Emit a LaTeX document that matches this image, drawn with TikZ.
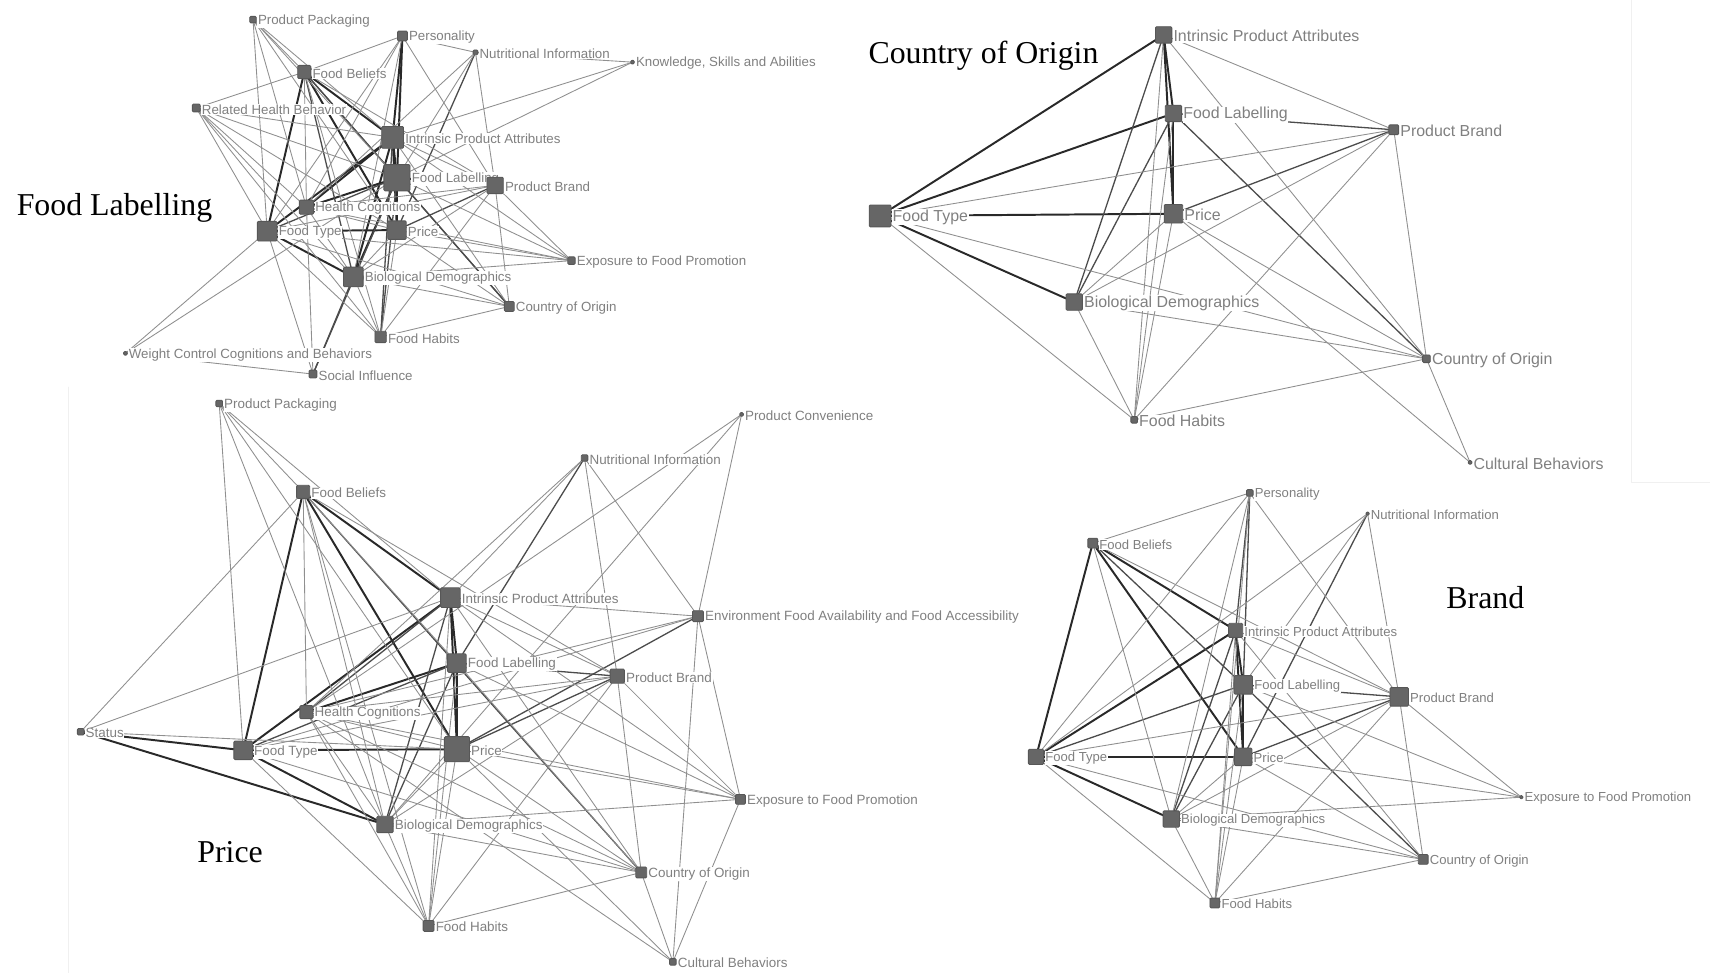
\documentclass[tikz,border=0pt]{standalone}
\usepackage{fontspec}
\setmainfont{Liberation Serif}
\setsansfont{Liberation Sans}
\usepackage{tikz}
\usetikzlibrary{backgrounds}
\definecolor{nodegray}{rgb}{0.40,0.40,0.40}
\definecolor{labelgray}{rgb}{0.50,0.50,0.50}
\definecolor{edgegray}{rgb}{0.56,0.56,0.56}
\definecolor{edgedark}{rgb}{0.30,0.30,0.30}
\definecolor{edgeblack}{rgb}{0.16,0.16,0.16}
\definecolor{panelgray}{rgb}{0.94,0.94,0.94}
\newcommand{\gnode}[4]{\node[sq, minimum size=#3] (#1) at (#2) {};
  \node[lbl] (#1t) at (#1.east) {#4};}

\begin{document}
\begin{tikzpicture}[line cap=round,line join=round, x=0.5pt,y=-0.5pt,
  sq/.style={draw=nodegray!85!black, fill=nodegray, rounded corners=0.5pt, inner sep=0pt, outer sep=0pt},
  lbl/.style={anchor=west, text=labelgray, fill=white, inner sep=0.3pt, xshift=0.3pt, yshift=-0.6pt, font=\sffamily\fontsize{6.1}{7}\selectfont},
  ttl/.style={inner sep=0pt, font=\fontsize{14.6}{16}\selectfont},
  thn/.style={draw=edgegray, line width=0.4pt},
  drk/.style={draw=edgedark, line width=0.6pt},
  thk/.style={draw=edgeblack, line width=0.9pt}]
\useasboundingbox (0,0) rectangle (1568,892);
\draw[panelgray] (63,355) -- (63,892);
\draw[panelgray] (1496,0) -- (1496,442) -- (1568,442);

% Food Labelling
\gnode{aPP}{232,18}{3pt}{Product Packaging}
\gnode{aPE}{369,33}{4.5pt}{Personality}
\gnode{aNI}{436,48}{2.2pt}{Nutritional Information}
\gnode{aKS}{580,57}{1.6pt}{Knowledge, Skills and Abilities}
\gnode{aFB}{279,66}{6pt}{Food Beliefs}
\gnode{aRH}{180,99}{3.6pt}{Related Health Behavior}
\gnode{aIPA}{360,126}{10pt}{Intrinsic Product Attributes}
\gnode{aFL}{364,163}{12pt}{Food Labelling}
\gnode{aPB}{454,170}{7.5pt}{Product Brand}
\gnode{aHC}{281,190}{6.5pt}{Health Cognitions}
\gnode{aFT}{245,212}{9pt}{Food Type}
\gnode{aPR}{364,211}{8.5pt}{Price}
\gnode{aEX}{524,239}{3.4pt}{Exposure to Food Promotion}
\gnode{aBD}{324,254}{9pt}{Biological Demographics}
\gnode{aCO}{467,281}{4.5pt}{Country of Origin}
\gnode{aFH}{349,309}{5.2pt}{Food Habits}
\gnode{aWC}{115,324}{1.6pt}{Weight Control Cognitions and Behaviors}
\gnode{aSI}{287,343}{3.6pt}{Social Influence}
\node[ttl, anchor=west] (aTitle) at (15,191) {Food Labelling};
\begin{scope}[on background layer]
\foreach \u/\v in {aFB/aFT, aFB/aIPA, aFB/aPR, aPE/aIPA, aPE/aFL, aIPA/aFL, aIPA/aFT, aIPA/aHC,
  aIPA/aPR, aIPA/aBD, aFL/aPR, aFL/aHC, aFL/aPB, aFL/aBD, aFT/aPR, aFT/aBD}
  \draw[thk] (\u) -- (\v);
\foreach \u/\v in {aFB/aFL, aFB/aBD, aFB/aCO, aNI/aPR, aPB/aPR, aFL/aCO, aFL/aFT, aFL/aSI, aBD/aSI,
  aIPA/aFH, aFL/aFH}
  \draw[drk] (\u) -- (\v);
\foreach \u/\v in {aPP/aFT, aPP/aFB, aPP/aIPA, aPP/aHC, aPP/aFL, aPP/aPR, aFB/aPE, aFB/aRH, aFB/aHC,
  aFB/aPB, aFB/aFH, aRH/aIPA, aRH/aFL, aRH/aFT, aRH/aHC, aRH/aBD, aRH/aFH, aRH/aPR, aPE/aFT, aPE/aHC,
  aPE/aBD, aPE/aPB, aPE/aNI, aNI/aKS, aNI/aHC, aNI/aFL, aNI/aPB, aKS/aIPA, aKS/aFL, aIPA/aPB, aIPA/aEX,
  aIPA/aCO, aFL/aEX, aPB/aHC, aPB/aBD, aPB/aEX, aPB/aCO, aPB/aFT, aPB/aFH, aHC/aPR, aHC/aBD, aHC/aEX,
  aHC/aSI, aFT/aWC, aFT/aSI, aFT/aFH, aFT/aCO, aFT/aEX, aPR/aEX, aPR/aCO, aPR/aBD, aPR/aFH, aBD/aCO,
  aBD/aEX, aBD/aFH, aCO/aFH, aWC/aSI, aWC/aFL}
  \draw[thn] (\u) -- (\v);
\end{scope}

% Country of Origin
\begin{scope}[lbl/.append style={font=\sffamily\fontsize{7.3}{8}\selectfont}]
\gnode{bIPA}{1067,32}{7.5pt}{Intrinsic Product Attributes}
\gnode{bFL}{1076,104}{7.5pt}{Food Labelling}
\gnode{bPB}{1278,119}{4.5pt}{Product Brand}
\gnode{bFT}{807,198}{10pt}{Food Type}
\gnode{bPR}{1076,196}{8.5pt}{Price}
\gnode{bBD}{985,277}{7.5pt}{Biological Demographics}
\gnode{bCO}{1308,329}{3.5pt}{Country of Origin}
\gnode{bFH}{1040,385}{3pt}{Food Habits}
\gnode{bCB}{1348,424}{1.6pt}{Cultural Behaviors}
\end{scope}
\node[ttl, anchor=west] (bTitle) at (796,51) {Country of Origin};
\begin{scope}[on background layer]
\foreach \u/\v in {bFT/bIPA, bFT/bFL, bFT/bPR, bFT/bBD, bIPA/bFL, bIPA/bPR, bFL/bPR}
  \draw[thk] (\u) -- (\v);
\foreach \u/\v in {bFL/bPB, bFL/bCO, bPR/bPB, bIPA/bBD, bFL/bBD}
  \draw[drk] (\u) -- (\v);
\foreach \u/\v in {bFT/bPB, bFT/bCO, bFT/bFH, bIPA/bFH, bIPA/bPB, bIPA/bCO, bFL/bFH, bPR/bBD, bPR/bFH,
  bPR/bCO, bPR/bCB, bBD/bPB, bBD/bCO, bBD/bFH, bPB/bCO, bPB/bFH, bCO/bFH, bCO/bCB}
  \draw[thn] (\u) -- (\v);
\end{scope}

% Price
\begin{scope}[lbl/.append style={font=\sffamily\fontsize{6.15}{7}\selectfont}]
\gnode{cPP}{201,370}{3pt}{Product Packaging}
\gnode{cPC}{680,380}{1.6pt}{Product Convenience}
\gnode{cNI}{536,420}{3pt}{Nutritional Information}
\gnode{cFB}{278,451}{6pt}{Food Beliefs}
\gnode{cIPA}{413,548}{9pt}{Intrinsic Product Attributes}
\gnode{cEF}{640,565}{5pt}{Environment Food Availability and Food Accessibility}
\gnode{cFL}{419,608}{8.5pt}{Food Labelling}
\gnode{cPB}{566,620}{6.5pt}{Product Brand}
\gnode{cHC}{281,653}{6pt}{Health Cognitions}
\gnode{cST}{74,671}{3pt}{Status}
\gnode{cFT}{223,688}{8.5pt}{Food Type}
\gnode{cPR}{419,687}{11.5pt}{Price}
\gnode{cEX}{679,733}{4.5pt}{Exposure to Food Promotion}
\gnode{cBD}{353,756}{7.5pt}{Biological Demographics}
\gnode{cCO}{588,800}{5pt}{Country of Origin}
\gnode{cFH}{393,849}{5pt}{Food Habits}
\gnode{cCB}{617,882}{3pt}{Cultural Behaviors}
\end{scope}
\node[ttl] (cTitle) at (211,781) {Price};
\begin{scope}[on background layer]
\foreach \u/\v in {cFB/cFT, cFB/cIPA, cFB/cPR, cIPA/cFL, cIPA/cPR, cIPA/cFT, cFL/cPR, cFL/cHC,
  cFT/cPR, cFT/cBD, cST/cBD, cST/cFT}
  \draw[thk] (\u) -- (\v);
\foreach \u/\v in {cFB/cCO, cIPA/cHC, cIPA/cBD, cFL/cFT, cFL/cBD, cFL/cPB, cNI/cFL, cPB/cPR, cEF/cPR}
  \draw[drk] (\u) -- (\v);
\foreach \u/\v in {cPP/cFT, cPP/cFB, cPP/cIPA, cPP/cPR, cPP/cBD, cFB/cHC, cFB/cBD, cFB/cST, cFB/cFL,
  cFB/cPB, cFB/cFH, cST/cPR, cST/cIPA, cHC/cPR, cHC/cBD, cHC/cFH, cHC/cEF, cHC/cPB, cHC/cEX, cHC/cCB,
  cHC/cCO, cFT/cFH, cFT/cCO, cFT/cPB, cFT/cEF, cPR/cEX, cPR/cCO, cPR/cCB, cPR/cBD, cPR/cFH, cPB/cCO,
  cPB/cEX, cPB/cBD, cPB/cFH, cPB/cNI, cPB/cIPA, cEF/cIPA, cEF/cNI, cEF/cPC, cEF/cCB, cEF/cEX, cNI/cIPA,
  cNI/cHC, cPC/cHC, cPC/cBD, cIPA/cEX, cIPA/cCO, cIPA/cFH, cFL/cEX, cFL/cFH, cFL/cCO, cBD/cCO, cBD/cEX,
  cBD/cFH, cCO/cFH, cCO/cCB, cEX/cCB}
  \draw[thn] (\u) -- (\v);
\end{scope}

% Brand
\begin{scope}[lbl/.append style={font=\sffamily\fontsize{6.0}{7}\selectfont}]
\gnode{dPE}{1146,452}{3pt}{Personality}
\gnode{dNI}{1254,471}{1.4pt}{Nutritional Information}
\gnode{dFB}{1002,498}{4.5pt}{Food Beliefs}
\gnode{dIPA}{1133,578}{6.5pt}{Intrinsic Product Attributes}
\gnode{dFL}{1140,628}{8.5pt}{Food Labelling}
\gnode{dPB}{1283,639}{8.5pt}{Product Brand}
\gnode{dFT}{950,694}{7pt}{Food Type}
\gnode{dPR}{1140,694}{8pt}{Price}
\gnode{dEX}{1395,731}{1.4pt}{Exposure to Food Promotion}
\gnode{dBD}{1074,751}{7.5pt}{Biological Demographics}
\gnode{dCO}{1305,788}{4.5pt}{Country of Origin}
\gnode{dFH}{1114,828}{4.5pt}{Food Habits}
\end{scope}
\node[ttl] (dTitle) at (1362,548) {Brand};
\begin{scope}[on background layer]
\foreach \u/\v in {dFB/dFT, dFB/dIPA, dFB/dPR, dIPA/dFT, dIPA/dFL, dIPA/dPR, dFL/dPR, dFT/dPR, dFT/dBD}
  \draw[thk] (\u) -- (\v);
\foreach \u/\v in {dPE/dIPA, dPE/dFL, dNI/dPR, dFB/dFL, dIPA/dBD, dFL/dFT, dFL/dBD, dFL/dPB, dFL/dCO,
  dPB/dPR}
  \draw[drk] (\u) -- (\v);
\foreach \u/\v in {dPE/dFB, dPE/dFT, dPE/dBD, dPE/dPB, dPE/dFH, dNI/dFT, dNI/dFL, dNI/dPB, dFB/dBD,
  dFB/dPB, dIPA/dPB, dIPA/dFH, dIPA/dCO, dFL/dEX, dFL/dFH, dPB/dFT, dPB/dBD, dPB/dEX, dPB/dCO, dPB/dFH,
  dFT/dFH, dFT/dCO, dPR/dEX, dPR/dCO, dPR/dBD, dPR/dFH, dBD/dCO, dBD/dEX, dBD/dFH, dCO/dFH}
  \draw[thn] (\u) -- (\v);
\end{scope}
\end{tikzpicture}
\end{document}
